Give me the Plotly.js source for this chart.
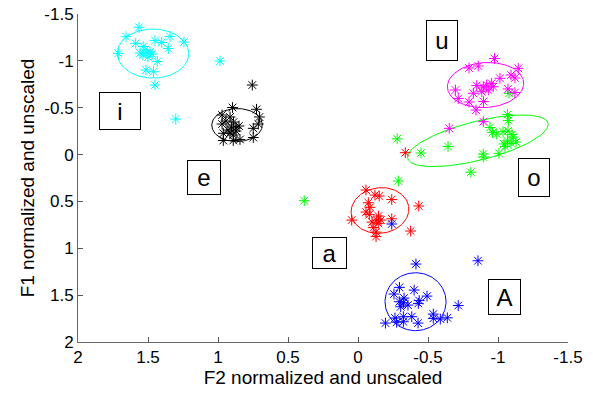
<!DOCTYPE html>
<html>
<head>
<meta charset="utf-8">
<script src="https://cdn.plot.ly/plotly-3.0.1.min.js"></script>
<style>html,body{margin:0;padding:0;background:#fff;}#chart{width:593px;height:397px;}</style>
</head>
<body>
<div id="chart"></div>
<script>
// ---- data (F2 = x, F1 = y) ----
const vowelLabels = ["i", "e", "u", "o", "a", "A"];
const vowelColors = ["#00FFFF", "#000000", "#FF00FF", "#00FF00", "#FF0000", "#0000FF"];

const iF2 = [1.564,1.657,1.712,1.588,1.534,1.557,1.536,1.507,1.486,1.500,1.450,1.402,1.343,1.355,1.243,1.434,1.514,1.461,1.450,0.986,1.302,1.521,1.471];
const iF1 = [-1.358,-1.258,-1.081,-1.187,-1.153,-1.084,-1.062,-1.084,-1.094,-1.041,-1.217,-1.196,-1.260,-1.132,-1.201,-0.993,-0.902,-0.884,-0.742,-0.998,-0.379,-1.116,-1.073];

const eF2 = [0.755,0.896,0.725,0.704,0.971,0.971,0.889,0.904,0.850,0.871,0.929,0.748,0.712,0.962,0.891,0.748,0.962,0.891,0.843,0.914,0.943,0.871,0.914];
const eF1 = [-0.742,-0.502,-0.483,-0.401,-0.422,-0.326,-0.347,-0.294,-0.305,-0.251,-0.262,-0.280,-0.326,-0.227,-0.209,-0.182,-0.150,-0.150,-0.161,-0.401,-0.358,-0.283,-0.230];

const uF2 = [-0.975,-0.793,-0.859,-1.145,-1.093,-1.121,-1.014,-0.955,-0.919,-0.895,-0.848,-0.966,-0.931,-0.884,-0.824,-0.696,-0.716,-0.793,-0.896,-1.071,-1.121,-0.843,-0.895,-0.652];
const uF1 = [-1.025,-0.924,-0.945,-0.920,-0.849,-0.817,-0.814,-0.760,-0.742,-0.721,-0.737,-0.724,-0.689,-0.671,-0.654,-0.689,-0.598,-0.561,-0.566,-0.700,-0.662,-0.475,-0.351,-0.280];

const oF2 = [-1.068,-1.074,-0.943,-0.961,-0.991,-1.036,-1.071,-1.100,-1.109,-1.068,-1.043,-1.093,-1.129,-1.050,-1.007,-0.895,-0.895,-0.643,-0.450,-0.280,-0.806,-0.288,0.384,-1.079];
const oF1 = [-0.427,-0.363,-0.289,-0.235,-0.219,-0.244,-0.251,-0.214,-0.187,-0.145,-0.113,-0.118,-0.134,-0.086,-0.013,-0.006,0.026,-0.086,-0.017,-0.168,0.188,0.282,0.492,-0.654];

const aF2 = [-0.057,-0.121,-0.152,-0.241,-0.074,-0.086,-0.081,-0.146,-0.164,-0.134,-0.241,0.045,-0.109,-0.145,-0.129,-0.129,-0.376,-0.434,-0.338,-0.100,-0.057];
const aF1 = [0.378,0.432,0.442,0.480,0.514,0.563,0.640,0.656,0.699,0.699,0.685,0.699,0.779,0.734,0.827,0.875,0.816,0.549,-0.020,0.720,0.613];

const AF2 = [-0.414,-0.857,-0.296,-0.257,-0.401,-0.493,-0.437,-0.431,-0.295,-0.324,-0.305,-0.716,-0.196,-0.264,-0.276,-0.324,-0.324,-0.384,-0.429,-0.538,-0.538,-0.588,-0.638,-0.357,-0.329,-0.241];
const AF1 = [1.168,1.133,1.417,1.488,1.446,1.510,1.558,1.588,1.570,1.581,1.624,1.611,1.798,1.744,1.789,1.730,1.784,1.730,1.798,1.702,1.748,1.755,1.742,1.606,1.531,0.741];

// ellipse parameters per vowel (centre F2, centre F1, semi-axis a, semi-axis b, angle deg)
const ellCx = [1.464, 0.864, -0.911, -0.856, -0.157, -0.411];
const ellCy = [-1.078, -0.315, -0.742, -0.147, 0.597, 1.570];
const ellA  = [0.255, 0.181, 0.275, 0.537, 0.205, 0.218];
const ellB  = [0.262, 0.176, 0.238, 0.199, 0.245, 0.309];
const ellAng = [6, 14.4, 15, 22.4, -10, 0];

// label box positions (F2, F1)
const labelF2 = [1.70, 1.102, -0.60, -1.254, 0.204, -1.046];
const labelF1 = [-0.470, 0.240, -1.222, 0.245, 1.054, 1.523];

const xTickVals = [2, 1.5, 1, 0.5, 0, -0.5, -1, -1.5];
const xTickText = ["2", "1.5", "1", "0.5", "0", "-0.5", "-1", "-1.5"];
const yTickVals = [-1.5, -1, -0.5, 0, 0.5, 1, 1.5, 2];
const yTickText = ["-1.5", "-1", "-0.5", "0", "0.5", "1", "1.5", "2"];

// ---- build traces ----
const pointSets = [[iF2, iF1], [eF2, eF1], [oF2, oF1], [uF2, uF1], [aF2, aF1], [AF2, AF1]];
const setIndex = [0, 1, 3, 2, 4, 5]; // colour index for each point set (i,e,o,u,a,A)

const traces = [];
for (let k = 0; k < vowelLabels.length; k++) {
  const ex = [], ey = [];
  const th = ellAng[k] * Math.PI / 180;
  for (let s = 0; s <= 120; s++) {
    const t = 2 * Math.PI * s / 120;
    const u = ellA[k] * Math.cos(t), v = ellB[k] * Math.sin(t);
    ex.push(ellCx[k] + u * Math.cos(th) - v * Math.sin(th));
    ey.push(ellCy[k] + u * Math.sin(th) + v * Math.cos(th));
  }
  traces.push({x: ex, y: ey, mode: 'lines', type: 'scatter', hoverinfo: 'skip',
    line: {color: vowelColors[k], width: 1}, showlegend: false});
}
pointSets.forEach((ps, j) => {
  const c = vowelColors[setIndex[j]];
  traces.push({x: ps[0], y: ps[1], mode: 'markers', type: 'scatter', showlegend: false,
    marker: {symbol: 'asterisk-open', size: 9, color: c, line: {color: c, width: 1}}});
});

const boxW = [38, 30, 28, 28, 31, 29];
const boxH = [34, 31, 37, 35, 28, 32];
const annotations = vowelLabels.map((lab, k) => ({
  x: labelF2[k], y: labelF1[k], xref: 'x', yref: 'y', text: lab, showarrow: false,
  font: {family: 'Liberation Sans, Arial, sans-serif', size: 24, color: '#000'},
  bordercolor: '#000', borderwidth: 1, borderpad: 1, bgcolor: 'rgba(255,255,255,0)',
  width: boxW[k], height: boxH[k], align: 'center', valign: 'middle'
}));

const axisFont = {family: 'Liberation Sans, Arial, sans-serif', size: 17, color: '#000'};
const titleFont = {family: 'Liberation Sans, Arial, sans-serif', size: 19, color: '#000'};
const layout = {
  width: 593, height: 397,
  margin: {l: 78, r: 25, t: 14, b: 55, pad: 0},
  paper_bgcolor: '#fff', plot_bgcolor: '#fff',
  showlegend: false,
  xaxis: {range: [2, -1.5], tickvals: xTickVals, ticktext: xTickText, ticks: 'inside', ticklen: 5,
    tickcolor: '#555', showline: true, linecolor: '#666', linewidth: 1, mirror: false,
    showgrid: false, zeroline: false, tickfont: axisFont,
    title: {text: 'F2 normalized and unscaled', font: titleFont, standoff: 3}},
  yaxis: {range: [2, -1.5], tickvals: yTickVals, ticktext: yTickText, ticks: 'inside', ticklen: 5,
    tickcolor: '#555', showline: true, linecolor: '#666', linewidth: 1, mirror: false,
    showgrid: false, zeroline: false, tickfont: axisFont,
    title: {text: 'F1 normalized and unscaled', font: titleFont, standoff: 4}},
  annotations: annotations
};

Plotly.newPlot('chart', traces, layout, {staticPlot: true, displayModeBar: false});
</script>
</body>
</html>
